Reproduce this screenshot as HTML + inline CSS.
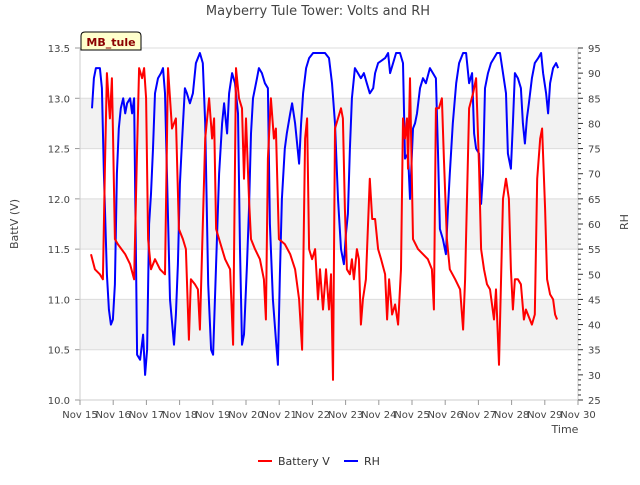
<!DOCTYPE html>
<html><head><meta charset="utf-8"><style>
body{margin:0;background:#fff;font-family:"Liberation Sans",sans-serif;}
text{font-family:"DejaVu Sans","Liberation Sans",sans-serif;}
</style></head><body>
<svg id="chart" width="640" height="480">
<text x="318" y="15" text-anchor="middle" font-size="13" fill="#444">Mayberry Tule Tower: Volts and RH</text>
<g id="grid"></g><g id="series"></g><g id="axes"></g>
<g>
<path d="M81,50 L81,36 Q81,32 85,32 L137,32 Q141,32 141,36 L141,50 Z" fill="#ffffcc" stroke="#000" stroke-width="1"/>
<text x="111" y="46" text-anchor="middle" font-size="11" font-weight="bold" fill="#8b0000">MB_tule</text></g>
<text x="18" y="224" font-size="11" fill="#444" text-anchor="middle" transform="rotate(-90 18 224)">BattV (V)</text>
<text x="628" y="222" font-size="11" fill="#444" text-anchor="middle" transform="rotate(-90 628 222)">RH</text>
<text x="565" y="433" font-size="11" fill="#444" text-anchor="middle">Time</text>
<g>
<g><line x1="258" y1="461" x2="272" y2="461" stroke="#f00" stroke-width="2"/><text x="278" y="465" font-size="11" fill="#333">Battery V</text></g>
<g><line x1="344" y1="461" x2="358" y2="461" stroke="#00f" stroke-width="2"/><text x="364" y="465" font-size="11" fill="#333">RH</text></g>
</g>
</svg>
<script>
const xTickLabels=["Nov 15","Nov 16","Nov 17","Nov 18","Nov 19","Nov 20","Nov 21","Nov 22","Nov 23","Nov 24","Nov 25","Nov 26","Nov 27","Nov 28","Nov 29","Nov 30"];
const leftTicks=[10.0,10.5,11.0,11.5,12.0,12.5,13.0,13.5];
const rightTicks=[25,30,35,40,45,50,55,60,65,70,75,80,85,90,95];
const battDays=[0.33,0.45,0.60,0.69,0.75,0.81,0.90,0.96,0.99,1.05,1.14,1.36,1.51,1.63,1.72,1.78,1.87,1.93,1.99,2.05,2.14,2.26,2.41,2.56,2.65,2.77,2.89,2.98,3.10,3.19,3.28,3.34,3.46,3.55,3.61,3.77,3.89,3.98,4.04,4.10,4.19,4.37,4.52,4.61,4.70,4.79,4.88,4.94,5.00,5.09,5.15,5.27,5.42,5.54,5.60,5.66,5.75,5.84,5.90,5.99,6.17,6.33,6.48,6.60,6.69,6.78,6.84,6.90,6.99,7.08,7.17,7.23,7.32,7.41,7.50,7.56,7.62,7.68,7.77,7.86,7.92,7.98,8.04,8.13,8.19,8.25,8.34,8.40,8.46,8.52,8.61,8.73,8.80,8.89,8.98,9.07,9.19,9.25,9.31,9.40,9.49,9.58,9.67,9.73,9.79,9.85,9.88,9.94,10.03,10.18,10.33,10.48,10.60,10.66,10.72,10.81,10.90,10.96,11.05,11.14,11.30,11.45,11.54,11.60,11.72,11.84,11.93,12.02,12.08,12.17,12.26,12.35,12.47,12.53,12.62,12.74,12.83,12.92,12.98,13.04,13.10,13.19,13.28,13.37,13.43,13.61,13.70,13.77,13.86,13.92,14.01,14.07,14.16,14.25,14.31,14.37];
const battValues=[11.45,11.3,11.25,11.2,12.3,13.25,12.8,13.2,12.7,11.6,11.55,11.45,11.35,11.2,12.5,13.3,13.2,13.3,13.0,11.6,11.3,11.4,11.3,11.25,13.3,12.7,12.8,11.7,11.6,11.5,10.6,11.2,11.15,11.1,10.7,12.6,13.0,12.6,12.8,11.7,11.6,11.4,11.3,10.55,13.3,13.0,12.9,12.2,12.8,12.0,11.6,11.5,11.4,11.2,10.8,12.4,13.0,12.6,12.7,11.6,11.55,11.45,11.3,11.0,10.5,12.6,12.8,11.5,11.4,11.5,11.0,11.3,10.9,11.3,10.9,11.25,10.2,12.7,12.8,12.9,12.8,11.9,11.3,11.25,11.4,11.2,11.5,11.4,10.75,11.0,11.2,12.2,11.8,11.8,11.5,11.4,11.25,10.8,11.2,10.85,10.95,10.75,11.3,12.8,12.6,12.8,12.3,13.2,11.6,11.5,11.45,11.4,11.3,10.9,12.9,12.9,13.0,12.4,11.6,11.3,11.2,11.1,10.7,11.2,12.9,13.05,13.2,12.3,11.5,11.3,11.15,11.1,10.8,11.1,10.35,12.0,12.2,12.0,11.3,10.9,11.2,11.2,11.15,10.8,10.9,10.75,10.85,12.2,12.6,12.7,11.9,11.2,11.05,11.0,10.85,10.8];
const rhDays=[0.36,0.42,0.48,0.60,0.66,0.72,0.81,0.87,0.93,0.99,1.05,1.11,1.17,1.23,1.30,1.36,1.42,1.51,1.57,1.63,1.72,1.81,1.90,1.96,2.02,2.08,2.14,2.20,2.26,2.35,2.44,2.50,2.56,2.71,2.83,2.89,2.95,3.01,3.07,3.16,3.22,3.31,3.40,3.49,3.61,3.70,3.77,3.86,3.95,4.01,4.10,4.19,4.28,4.34,4.43,4.49,4.58,4.67,4.76,4.82,4.88,4.94,5.03,5.09,5.15,5.21,5.33,5.39,5.48,5.57,5.66,5.72,5.81,5.90,5.96,6.02,6.08,6.17,6.23,6.33,6.39,6.48,6.54,6.60,6.66,6.72,6.81,6.90,7.02,7.38,7.50,7.59,7.68,7.77,7.86,7.95,8.01,8.07,8.13,8.19,8.28,8.37,8.46,8.55,8.64,8.73,8.83,8.89,8.98,9.19,9.28,9.34,9.43,9.52,9.64,9.73,9.79,9.88,9.94,10.03,10.09,10.15,10.24,10.33,10.42,10.54,10.63,10.72,10.78,10.84,10.93,11.02,11.08,11.14,11.23,11.33,11.42,11.54,11.63,11.72,11.81,11.87,11.93,12.02,12.08,12.14,12.20,12.29,12.38,12.47,12.56,12.65,12.74,12.83,12.89,12.98,13.04,13.10,13.19,13.28,13.34,13.40,13.46,13.52,13.61,13.70,13.80,13.89,13.95,14.04,14.10,14.16,14.25,14.34,14.40];
const rhValues=[83,89,91,91,87,70,50,43,40,41,48,70,79,83,85,82,84,85,82,85,34,33,38,30,35,60,66,75,86,89,90,91,86,45,36,42,52,68,76,87,86,84,86,92,94,92,80,48,35,34,52,70,80,84,78,86,90,88,82,55,36,38,52,63,78,85,89,91,90,88,87,60,45,37,32,50,65,75,78,82,84,80,76,72,80,86,91,93,94,94,93,88,80,65,55,52,58,62,75,85,91,90,89,90,88,86,87,90,92,93,94,90,92,94,94,92,73,74,65,79,80,82,87,89,88,91,90,89,75,59,57,54,63,70,80,88,92,94,94,88,90,78,75,74,64,70,87,90,92,93,94,94,90,86,74,71,80,90,89,87,80,76,81,84,89,92,93,94,90,86,82,88,91,92,91];

const NS='http://www.w3.org/2000/svg';
const L=80,R=578,T=48,B=400;
const xs=d=>L+d*(R-L)/15;
const yL=v=>B-(v-10)*(B-T)/3.5;
const yR=v=>B-(v-25)*(B-T)/70;
function mk(tag,attrs,parent){const e=document.createElementNS(NS,tag);for(const k in attrs)e.setAttribute(k,attrs[k]);parent.appendChild(e);return e;}
const grid=document.getElementById('grid'),axes=document.getElementById('axes'),series=document.getElementById('series');
// bands
for(const lo of [10.5,11.5,12.5]){
 const b=mk('rect',{x:L,y:yL(lo+0.5),width:R-L,height:yL(lo)-yL(lo+0.5),fill:'#f2f2f2'},grid);
 
 
}
leftTicks.forEach(v=>{
 const g=mk('line',{x1:L,x2:R,y1:yL(v),y2:yL(v),stroke:'#dcdcdc','stroke-width':1},grid);
 
 
 const t=mk('text',{x:L-10,y:yL(v)+4,'text-anchor':'end','font-size':10,fill:'#444'},axes);
 t.textContent=v.toFixed(1);
 
 
 mk('line',{x1:L-5,x2:L,y1:yL(v),y2:yL(v),stroke:'#999'},axes);
});
mk('line',{x1:L,x2:L,y1:T,y2:B,stroke:'#ccc'},axes);
mk('line',{x1:L,x2:R,y1:B,y2:B,stroke:'#ccc'},axes);
mk('line',{x1:R,x2:R,y1:T,y2:B,stroke:'#ccc'},axes);
for(let v=25;v<=95;v++){
 mk('line',{x1:R,x2:R+(v%5===0?5:3),y1:yR(v),y2:yR(v),stroke:'#333'},axes);
}
rightTicks.forEach(v=>{
 const t=mk('text',{x:R+10,y:yR(v)+4,'font-size':10,fill:'#444'},axes);
 t.textContent=v;
 
 
});
xTickLabels.forEach((s,i)=>{
 mk('line',{x1:xs(i),x2:xs(i),y1:B,y2:B+5,stroke:'#999'},axes);
 const t=mk('text',{x:xs(i),y:B+18,'text-anchor':'middle','font-size':10,fill:'#444'},axes);
 t.textContent=s;
 
 
});
function line(days,vals,yf,color,name){
 const p=mk('polyline',{points:days.map((d,i)=>xs(d).toFixed(1)+','+yf(vals[i]).toFixed(1)).join(' '),fill:'none',stroke:color,'stroke-width':2,'stroke-linejoin':'round'},series);
 
 
}
line(rhDays,rhValues,yR,'#0000ff','rh-line');
line(battDays,battValues,yL,'#ff0000','battery-v-line');
</script>
</body></html>
